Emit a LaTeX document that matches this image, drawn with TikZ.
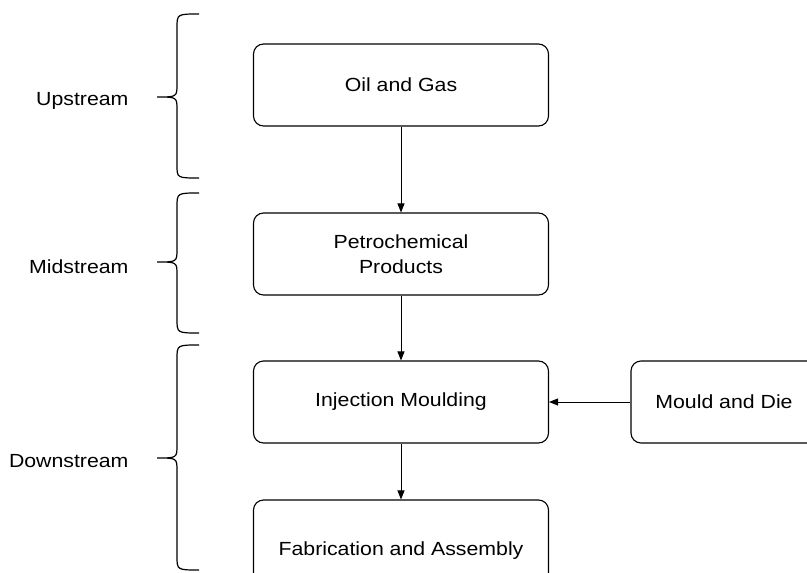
\documentclass[tikz,border=0pt]{standalone}
\usepackage{fontspec}
\setmainfont[FakeStretch=1.12]{Liberation Sans}
\usetikzlibrary{arrows.meta}
\tikzset{
  stage/.style={draw, rounded corners=10pt, line width=1.1pt, minimum width=295pt, minimum height=82pt, inner sep=0pt, align=center, font=\fontsize{19}{25}\selectfont},
  stream/.style={anchor=east, font=\fontsize{19}{25}\selectfont},
  curly/.style={line width=1.2pt}
}
\begin{document}
\begin{tikzpicture}[x=1pt, y=-1pt, >={Triangle[length=9pt,width=7pt]}, every edge/.style={draw, line width=0.9pt}]
	\useasboundingbox (0,0) rectangle (807,573);
	\clip (0,0) rectangle (807,573);

	\node [stage] at (401,85) (oil) {Oil and Gas};
	\node [stage] at (401,254) (petro) {Petrochemical\\Products} edge [<-] (oil);
	\node [stage] at (401,402) (inj) {Injection Moulding} edge [<-] (petro);
	\node [stage, minimum height=102pt] at (401,551) (fab) {Fabrication and Assembly} edge [<-] (inj);
	\node [stage, minimum width=186pt] at (724,402) (mould) {Mould and Die} edge [->] (inj);

	% braces on the left
	\draw [curly] (199,14) .. controls (177,14) .. (177,28) -- (177,84) .. controls (177,97) .. (157,97) .. controls (177,97) .. (177,110) -- (177,165) .. controls (177,178) .. (199,178);
	\node [stream] at (132,101) (up) {Upstream};

	\draw [curly] (199,193) .. controls (177,193) .. (177,207) -- (177,249) .. controls (177,262) .. (157,262) .. controls (177,262) .. (177,275) -- (177,319) .. controls (177,333) .. (199,333);
	\node [stream] at (132,267) (mid) {Midstream};

	\draw [curly] (199,345) .. controls (177,345) .. (177,359) -- (177,445) .. controls (177,458) .. (157,458) .. controls (177,458) .. (177,471) -- (177,556) .. controls (177,570) .. (199,570);
	\node [stream] at (132,461) (down) {Downstream};
\end{tikzpicture}
\end{document}
